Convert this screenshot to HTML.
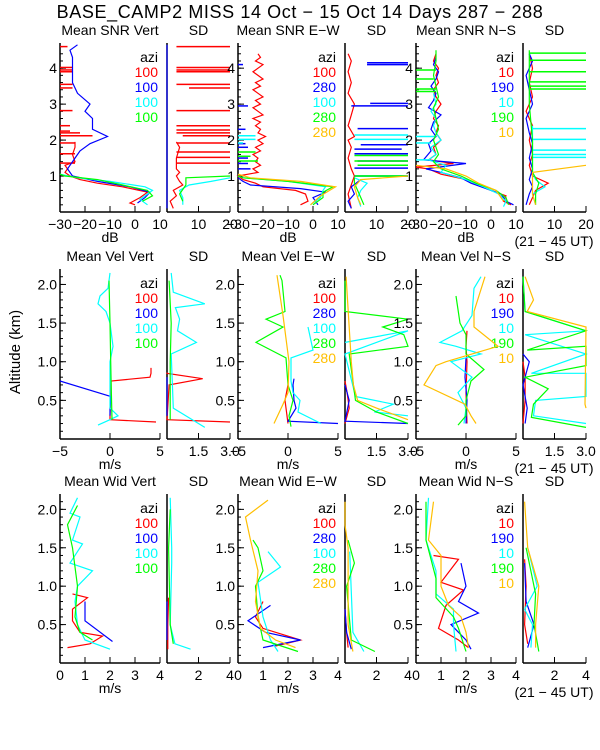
<!DOCTYPE html>
<html><head><meta charset="utf-8">
<style>
html,body{margin:0;padding:0;background:#fff;}
svg{display:block;font-family:"Liberation Sans",sans-serif;}
text{font-size:14px;fill:#000;}
</style></head>
<body>
<svg id="chart" width="600" height="750" viewBox="0 0 600 750" xmlns="http://www.w3.org/2000/svg">
<text x="300" y="18" text-anchor="middle" style="font-size:18px;letter-spacing:0.6px">BASE_CAMP2 MISS  14 Oct − 15 Oct 14 Days 287 − 288</text>
<text x="0" y="0" transform="translate(20,352) rotate(-90)" text-anchor="middle" style="font-size:15px">Altitude (km)</text>
</svg>
<script>
// ---- data arrays: [altitude km, value]; spikes: [altitude km, from value, to value] ----
const snrVertRed=[[0.2,0],[0.25,-2],[0.4,2],[0.55,5],[0.7,-5],[0.8,-15],[0.9,-22],[1.0,-26],[1.1,-28],[1.2,-27],[1.3,-28],[1.4,-24],[1.6,-25],[1.8,-24],[1.95,-24]];
const snrVertRedSpikes=[[1.36,-30,-24],[1.62,-30,-24],[1.92,-30,-24],[2.12,-30,-17],[2.2,-30,-22],[2.25,-30,-26],[2.4,-30,-26],[2.82,-30,-25],[3.45,-30,-25],[3.55,-30,-25],[3.9,-30,-25],[3.95,-30,-25],[4.02,-30,-25],[4.6,-30,-27]];
const snrVertBlue=[[0.25,1],[0.4,4],[0.55,6],[0.7,-2],[0.85,-15],[1.0,-25],[1.2,-27],[1.3,-26],[1.5,-24],[1.7,-22],[1.9,-18],[2.1,-11],[2.3,-17],[2.6,-17],[2.8,-20],[3.0,-18],[3.3,-23],[3.6,-25],[4.0,-25],[4.3,-25],[4.5,-26],[4.65,-23]];
const snrVertCyan=[[0.2,5],[0.35,2],[0.5,5],[0.6,7],[0.7,4],[0.85,-10],[0.95,-23],[1.05,-30]];
const snrVertGreen=[[0.3,3],[0.45,7],[0.6,5],[0.75,-5],[0.9,-15],[1.0,-28],[1.05,-30]];
const sdVertRed=[[0.1,2],[0.3,1],[0.45,3],[0.6,2],[0.75,5],[0.85,4],[1.0,3],[1.1,4],[1.2,3],[1.5,3],[1.8,4],[1.95,3]];
const sdVertRedSpikes=[[1.36,3,20],[1.52,3,20],[1.67,3,20],[1.92,3,20],[2.12,5,20],[2.2,3,20],[2.28,3,20],[2.4,3,20],[2.82,3,20],[3.45,7,20],[3.55,3,20],[3.9,3,20],[3.95,3,20],[4.02,3,20],[4.6,3,20]];
const sdVertBlue=[[0.1,0],[4.65,0]];
const sdVertCyan=[[0.2,5],[0.4,5],[0.6,4],[0.75,7],[0.85,14],[0.95,20]];
const sdVertGreen=[[0.3,5],[0.5,4],[0.75,6],[0.95,6],[1.0,20]];
const snrEWRed=[[0.2,-5],[0.3,-2],[0.5,-3],[0.6,-7],[0.7,-20],[0.8,-23],[0.9,-28],[1.0,-30],[1.1,-22],[1.2,-24],[1.3,-21],[1.4,-23],[1.5,-22],[1.6,-24],[1.7,-21],[1.8,-23],[1.9,-20],[2.0,-22],[2.1,-19],[2.2,-22],[2.3,-21],[2.4,-23],[2.5,-21],[2.6,-24],[2.7,-20],[2.8,-22],[2.9,-24],[3.0,-21],[3.1,-23],[3.2,-20],[3.3,-22],[3.4,-24],[3.5,-21],[3.6,-23],[3.7,-20],[3.8,-22],[3.9,-24],[4.0,-22],[4.1,-20],[4.2,-23],[4.3,-21],[4.4,-22]];
const snrEWBlue=[[0.2,2],[0.4,0],[0.55,5],[0.65,-5],[0.75,-25],[0.85,-28],[0.95,-30]];
const snrEWBlueSpikes=[[1.2,-30,-25],[1.35,-30,-26],[1.5,-30,-26],[1.8,-30,-26],[1.9,-30,-27],[2.3,-30,-27],[2.95,-30,-26],[4.1,-30,-28]];
const snrEWCyan=[[0.2,-1],[0.4,3],[0.6,4],[0.7,5],[0.85,-10],[0.95,-28],[1.0,-30]];
const snrEWCyanSpikes=[[1.92,-30,-28],[2.02,-30,-23],[2.12,-30,-23]];
const snrEWGreen=[[0.2,0],[0.4,4],[0.55,4],[0.7,8],[0.85,-10],[0.95,-28],[1.0,-30]];
const snrEWGreenSpikes=[[1.42,-30,-22],[1.55,-30,-25],[1.67,-30,-23]];
const snrEWOrange=[[0.2,-1],[0.45,3],[0.7,9],[0.85,-5],[0.95,-25],[1.05,-30]];
const sdEWRed=[[0.1,2],[0.5,1],[1.0,3],[1.2,2],[1.5,1],[1.8,2],[2.0,1],[2.1,3],[2.4,1],[2.7,2],[3.0,3],[3.3,1],[3.6,2],[3.9,1],[4.2,2],[4.4,1]];
const sdEWBlue=[[0.1,2],[0.3,1],[0.5,3],[0.7,2],[0.9,5]];
const sdEWBlueSpikes=[[1.0,3,20],[1.22,3,20],[1.42,4,20],[1.62,3,20],[1.75,3,18],[1.87,5,20],[2.32,4,20],[2.95,2,20],[3.02,8,20],[4.1,7,20],[4.15,7,20]];
const sdEWCyan=[[0.15,5],[0.4,4],[0.6,5],[0.8,7],[0.95,3]];
const sdEWCyanSpikes=[[1.0,3,20],[2.02,3,20],[2.14,3,20]];
const sdEWGreen=[[0.2,6],[0.4,5],[0.6,4],[0.8,3],[0.95,3]];
const sdEWGreenSpikes=[[1.0,3,20],[1.3,4,20],[1.42,3,20],[1.57,3,20]];
const sdEWOrange=[[0.2,5],[0.4,4],[0.7,3],[0.9,5],[1.0,20]];
const snrNSRed=[[0.2,8],[0.3,5],[0.45,6],[0.6,0],[0.75,-5],[0.9,-10],[1.05,-20],[1.2,-25],[1.25,-30],[1.35,-15],[1.45,-25],[1.6,-22],[1.8,-23],[2.0,-20],[2.2,-22],[2.4,-21],[2.6,-23],[2.8,-22],[3.0,-20],[3.2,-22],[3.4,-23],[3.6,-21],[3.8,-22],[4.0,-21],[4.2,-23],[4.4,-22]];
const snrNSBlue=[[0.2,9],[0.3,6],[0.5,4],[0.65,-2],[0.8,-8],[0.95,-12],[1.1,-20],[1.2,-26],[1.35,-10],[1.45,-27],[1.7,-24],[1.9,-25],[2.1,-22],[2.3,-24],[2.5,-23],[2.7,-20],[2.9,-25],[3.1,-23],[3.3,-22],[3.5,-24],[3.7,-22],[3.9,-21],[4.1,-23],[4.3,-22]];
const snrNSCyan=[[0.15,5],[0.3,6],[0.5,3],[0.7,-3],[0.9,-10],[1.1,-20],[1.3,-18],[1.45,-25],[1.6,-22],[1.8,-24],[2.0,-20],[2.2,-22],[2.4,-23],[2.6,-22],[2.8,-24],[3.0,-22],[3.3,-23]];
const snrNSCyanSpikes=[[1.45,-30,-25],[1.92,-30,-24],[2.1,-30,-22]];
const snrNSGreen=[[0.2,7],[0.4,6],[0.6,2],[0.8,-6],[1.0,-12],[1.2,-20],[1.4,-23],[1.6,-21],[1.8,-22],[2.0,-23],[2.3,-21],[2.6,-22],[2.9,-23],[3.2,-21],[3.5,-22],[3.8,-23],[4.2,-22],[4.5,-22]];
const snrNSGreenSpikes=[[3.35,-30,-22],[3.42,-30,-22],[3.7,-30,-23],[3.95,-30,-22]];
const snrNSOrange=[[0.3,5],[0.6,2],[0.8,-5],[1.0,-10],[1.2,-18],[1.3,-30]];
const sdNSRed=[[0.2,2],[0.4,3],[0.6,4],[0.8,8],[1.0,3],[1.3,2],[1.6,3],[2.0,2],[2.4,3],[2.8,1],[3.2,3],[3.6,2],[4.0,3],[4.4,2]];
const sdNSBlue=[[0.2,1],[0.5,2],[0.7,3],[0.9,2],[1.2,3],[1.5,2],[1.9,3],[2.2,2],[2.6,1],[3.0,3],[3.4,2],[3.8,1],[4.2,3],[4.4,2]];
const sdNSCyan=[[0.2,4],[0.5,3],[0.7,7],[0.9,4],[1.1,3],[1.5,3],[2.0,3],[2.4,3]];
const sdNSCyanSpikes=[[1.52,3,20],[1.6,3,20],[1.72,3,20],[2.02,3,20],[2.32,3,20]];
const sdNSGreen=[[0.2,4],[0.5,4],[0.8,5],[1.1,3],[2.0,3],[3.0,2],[4.0,2],[4.5,2]];
const sdNSGreenSpikes=[[3.42,2,20],[3.5,2,20],[3.62,2,20],[3.9,2,20],[4.22,2,20],[4.42,2,20]];
const sdNSOrange=[[0.2,4],[0.5,3],[0.9,3],[1.1,3],[1.3,20]];

const velVertRed=[[0.22,4.6],[0.25,0],[0.3,0],[0.6,0.1],[0.75,0.1],[0.8,4],[0.85,4.1],[0.92,4.1]];
const velVertBlue=[[0.3,0],[0.4,0],[0.55,0.1],[0.75,-5]];
const velVertCyan=[[0.18,-1.2],[0.25,0],[0.3,0.8],[0.4,0],[1.0,0],[1.2,0.3],[1.3,0.2],[1.5,0],[1.65,-0.4],[1.75,-1.2],[1.85,-1.0],[1.95,-0.2],[2.15,0]];
const velVertGreen=[[0.25,0.2],[0.8,0.1],[1.5,0],[2.05,-0.1]];
const velSdVertRed=[[0.22,3.0],[0.25,0],[0.7,0.1],[0.78,1.7],[0.85,0],[0.86,0]];
const velSdVertBlue=[[0.3,0],[0.8,0]];
const velSdVertCyan=[[0.15,1.8],[0.4,0.3],[1.1,0.2],[1.25,1.4],[1.4,0.5],[1.55,0.6],[1.7,0.4],[1.75,1.8],[1.9,0.3],[2.15,0.2]];
const velSdVertGreen=[[0.25,0.15],[1.0,0.15],[1.5,0.2],[2.05,0.1]];
const velEWRed=[[0.2,0],[0.4,-0.2],[0.5,-0.3],[0.7,0]];
const velEWBlue=[[0.2,5],[0.23,0],[0.4,0.8],[0.5,0.6],[0.7,0.5],[0.78,0.6]];
const velEWCyan=[[0.2,3.3],[0.35,1],[0.5,1.2],[0.6,0.5],[0.75,0.3],[1.05,0.3],[1.15,2.5],[1.45,2.0]];
const velEWGreen=[[0.16,0.3],[0.3,0.1],[0.5,0.5],[0.7,0],[1.05,-0.2],[1.25,-3.2],[1.45,-0.5],[1.55,-2.2],[1.65,-0.3],[2.05,-0.6],[2.12,-0.8]];
const velEWOrange=[[0.2,-1.4],[0.45,-0.5],[0.6,0],[1.0,0.1],[1.6,-0.5],[2.12,-1.1]];
const velSdEWRed=[[0.2,0],[0.4,0.2],[0.6,0.1],[0.75,0]];
const velSdEWBlue=[[0.2,3],[0.23,0],[0.5,0.2],[0.7,0]];
const velSdEWCyan=[[0.3,3],[0.35,1.4],[0.45,2.3],[0.55,0.5],[1.1,0],[1.4,3],[1.25,0]];
const velSdEWGreen=[[0.2,3],[0.35,1.5],[0.5,0.5],[1.1,0.2],[1.2,3],[1.35,2.8],[1.45,1.8],[1.55,3],[1.65,0],[2.05,0]];
const velSdEWOrange=[[0.25,3],[0.4,1.5],[0.5,0.6],[0.7,0.4],[1.0,0.3],[2.1,0.05]];
const velNSRed=[[0.2,0.1],[0.6,0],[1.0,0.1],[1.2,0],[1.4,0.1]];
const velNSBlue=[[0.2,0],[0.5,0.1],[0.8,-0.1],[1.05,0]];
const velNSCyan=[[0.2,-0.2],[0.4,0],[0.6,-0.8],[0.8,0.6],[1.0,-1.5],[1.1,1.5],[1.2,-1.0],[1.25,-2.6],[1.4,-0.4],[1.6,0.6],[1.95,0.8],[2.1,1.5]];
const velNSGreen=[[0.18,-0.8],[0.3,0],[0.5,0],[0.75,0.5],[0.9,1.8],[1.1,0],[1.35,0],[1.5,-0.6],[1.85,-1.0]];
const velNSOrange=[[0.2,1],[0.3,0.5],[0.45,-0.1],[0.7,-4.2],[0.95,-3.0],[1.0,-2.0],[1.2,3.2],[1.45,0.8],[1.65,0.8],[2.1,1.9]];
const velSdNSRed=[[0.2,0],[0.5,0.1],[0.8,0.1],[1.0,0]];
const velSdNSBlue=[[0.2,0.1],[0.4,0.2],[0.7,0],[1.0,0.3],[1.1,0]];
const velSdNSCyan=[[0.2,3],[0.3,0.5],[0.5,0.6],[0.55,3],[0.85,3],[0.85,0.4],[1.1,3],[1.35,0.1],[1.4,3],[1.65,0.1],[2.1,0]];
const velSdNSGreen=[[0.15,3],[0.28,0.4],[0.45,0.5],[0.65,1.2],[0.8,0.1],[0.95,3],[1.2,3],[1.15,0.2],[1.4,3],[1.65,0.1],[2.1,0]];
const velSdNSOrange=[[0.4,3],[0.45,2.95],[1.45,3],[1.65,0.2],[1.8,0.5],[2.1,0.1]];

const widVertRed=[[0.2,0.3],[0.25,1.2],[0.35,1.7],[0.4,0.8],[0.55,0.5],[0.7,0.5],[0.85,1.1],[0.9,0.5]];
const widVertBlue=[[0.28,2.1],[0.55,1.0],[0.8,1.0]];
const widVertCyan=[[0.18,2.0],[0.3,1.0],[0.5,0.7],[0.8,0.6],[1.0,0.7],[1.2,1.3],[1.3,0.4],[1.55,0.9],[1.6,0.5],[1.9,0.8],[1.95,0.4],[2.15,0.7]];
const widVertGreen=[[0.3,1.3],[0.4,0.8],[0.6,0.6],[1.0,0.7],[1.5,0.5],[1.8,0.3],[2.05,0.7]];
const widSdVertRed=[[0.18,0.05],[0.5,0.05],[0.85,0.1]];
const widSdVertBlue=[[0.3,0],[0.8,0]];
const widSdVertCyan=[[0.18,1.5],[0.25,0.5],[0.5,0.2],[1.3,0.3],[1.5,0.3],[2.15,0.2]];
const widSdVertGreen=[[0.25,0.4],[0.5,0.2],[1.5,0.1],[2.0,0.2]];
const widEWRed=[[0.22,1.5],[0.3,2.5],[0.45,1.0],[0.6,0.7],[0.8,1.0]];
const widEWBlue=[[0.2,1.0],[0.3,2.5],[0.4,1.1],[0.55,0.4],[0.75,1.3]];
const widEWCyan=[[0.15,1.6],[0.3,1.3],[0.6,1.0],[1.05,0.8],[1.25,1.7],[1.45,1.2]];
const widEWGreen=[[0.15,2.4],[0.3,1.0],[0.6,0.8],[1.0,0.7],[1.2,1.0],[1.5,0.8],[1.6,0.6]];
const widEWOrange=[[0.2,2.3],[0.3,1.5],[0.45,0.9],[0.8,0.7],[1.2,0.8],[1.6,0.5],[1.9,0.3],[2.12,1.2]];
const widSdEWRed=[[0.2,0.2],[0.4,0.1],[0.7,0]];
const widSdEWBlue=[[0.18,0.4],[0.4,0.1],[0.7,0]];
const widSdEWCyan=[[0.15,1.2],[0.4,0.5],[1.45,0.3]];
const widSdEWGreen=[[0.15,1.9],[0.3,0.4],[1.0,0.1],[1.3,0.6],[1.6,0.2]];
const widSdEWOrange=[[0.15,0.5],[0.5,0.2],[1.5,0.2],[1.8,0],[2.1,0]];
const widNSRed=[[0.2,2.1],[0.3,1.7],[0.45,0.9],[0.75,1.2],[0.95,1.9],[1.05,1.0],[1.35,1.7],[1.4,0.7]];
const widNSBlue=[[0.18,2.2],[0.3,2.0],[0.5,1.4],[0.65,2.5],[0.8,1.7],[1.0,2.0],[1.3,1.8]];
const widNSCyan=[[0.15,1.6],[0.5,1.5],[0.7,1.5],[0.9,0.8],[1.2,0.8],[1.6,0.4],[2.15,0.5]];
const widNSGreen=[[0.15,2.0],[0.45,1.7],[0.6,1.5],[0.85,0.8],[1.1,0.8],[1.6,0.4],[2.1,0.4]];
const widNSOrange=[[0.2,2.1],[0.4,2.0],[0.6,1.8],[0.75,1.3],[1.0,1.0],[1.4,1.0],[1.6,0.5],[2.1,0.7]];
const widSdNSRed=[[0.25,0.3],[0.5,0.1],[1.0,0.2],[1.35,0.1]];
const widSdNSBlue=[[0.2,0.3],[0.5,0.7],[0.8,0.2],[1.3,0.1]];
const widSdNSCyan=[[0.2,0.5],[0.5,0.6],[0.7,0.1],[1.0,0.9],[1.5,0.3]];
const widSdNSGreen=[[0.15,1.0],[0.5,0.7],[0.9,0.8],[1.5,0.2]];
const widSdNSOrange=[[0.2,0.8],[0.5,0.8],[1.0,1.0],[1.5,0.3],[2.1,0.1]];

const snrMeanTicks=[-30,-20,-10,0,10];
const snrSdTicks=[10,20];
const velMeanTicks=[-5,0,5];
const velSdTicks=[1.5,3.0];
const widMeanTicks=[0,1,2,3,4];
const widSdTicks=[2,4];
const snrAltTicks=[1,2,3,4];
const kinAltTicks=[0.5,1.0,1.5,2.0];
const aziVert=["100","100","100","100"];
const aziEW=["100","280","100","280","280"];
const aziNS=["10","190","10","190","10"];

const C={r:"#ff0000",b:"#0000ff",c:"#00ffff",g:"#00ff00",o:"#ffbf00"};
const svg=document.getElementById("chart");
const NS="http://www.w3.org/2000/svg";
function mk(tag,attrs,parent){const e=document.createElementNS(NS,tag);for(const k in attrs)e.setAttribute(k,attrs[k]);(parent||svg).appendChild(e);return e;}

const colsX=[[60,160],[167,230],[238,338],[345,408],[416,516],[523,586]];
const rowsY=[[43,212,4.7],[269,439,2.2],[494,663,2.2]];

function panel(ci,ri,name,title,xmin,xmax,ticks,tickFmt,unit,series,isMean,altTicks,minorStep,azi){
  const [x0,x1]=colsX[ci],[yt,yb,ymax]=rowsY[ri];
  const g=mk("g",{});
  
  
  const cl=v=>Math.max(xmin,Math.min(xmax,v));
  const sx=v=>x0+(cl(v)-xmin)/(xmax-xmin)*(x1-x0);
  const sy=a=>yb-a/ymax*(yb-yt);
  const t=mk("text",{x:(x0+x1)/2,y:yt-8,"text-anchor":"middle"},g);t.textContent=title;
  
  
  mk("line",{x1:x0,y1:yt,x2:x0,y2:yb,stroke:"#000","stroke-width":1.5},g);
  mk("line",{x1:x0,y1:yb,x2:x1,y2:yb,stroke:"#000","stroke-width":1.5},g);
  ticks.forEach(v=>{
    mk("line",{x1:sx(v),y1:yb,x2:sx(v),y2:yb-6,stroke:"#000"},g);
    const tl=mk("text",{x:sx(v),y:yb+17,"text-anchor":"middle"},g);tl.textContent=tickFmt(v).replace("-","−");
    
    
  });
  if(isMean){
    for(let a=minorStep;a<ymax;a+=minorStep){mk("line",{x1:x0,y1:sy(a),x2:x0+3,y2:sy(a),stroke:"#000"},g);}
    altTicks.forEach(a=>{
      mk("line",{x1:x0,y1:sy(a),x2:x0+6,y2:sy(a),stroke:"#000"},g);
      const tl=mk("text",{x:x0-3,y:sy(a)+5,"text-anchor":"end"},g);tl.textContent=ri==0?String(a):a.toFixed(1);
      
      
    });
    const u=mk("text",{x:(x0+x1)/2,y:yb+30,"text-anchor":"middle"},g);u.textContent=unit;
    
    
    const lg=[["azi","#000"]].concat(azi.map((a,i)=>[a,[C.r,C.b,C.c,C.g,C.o][i]]));
    lg.forEach((e,i)=>{const l=mk("text",{x:x1-2,y:yt+19+i*15,"text-anchor":"end",style:"fill:"+e[1]+";font-size:14px"},g);l.textContent=e[0];
      
      });
  } else if(ci==5){
    const u=mk("text",{x:554,y:yb+34,"text-anchor":"middle"},g);u.textContent="(21 − 45 UT)";
    
    
  }
  series.forEach(([data,col,spikes])=>{
    const p=mk("polyline",{points:data.map(d=>sx(d[1]).toFixed(1)+","+sy(d[0]).toFixed(1)).join(" "),fill:"none",stroke:col,"stroke-width":1.2},g);
    
    
    (spikes||[]).forEach(s=>{
      const l=mk("line",{x1:sx(s[1]),y1:sy(s[0]),x2:sx(s[2]),y2:sy(s[0]),stroke:col,"stroke-width":1.5},g);
      
      
    });
  });
}
const f0=v=>String(v), f1=v=>v.toFixed(1);
panel(0,0,"snr-vert-panel","Mean SNR Vert",-30,10,snrMeanTicks,f0,"dB",[[snrVertRed,C.r,snrVertRedSpikes],[snrVertBlue,C.b],[snrVertCyan,C.c],[snrVertGreen,C.g]],true,snrAltTicks,0.2,aziVert);
panel(1,0,"snr-vert-sd-panel","SD",0,20,snrSdTicks,f0,"",[[sdVertRed,C.r,sdVertRedSpikes],[sdVertBlue,C.b],[sdVertCyan,C.c],[sdVertGreen,C.g]],false);
panel(2,0,"snr-ew-panel","Mean SNR E−W",-30,10,snrMeanTicks,f0,"dB",[[snrEWRed,C.r],[snrEWBlue,C.b,snrEWBlueSpikes],[snrEWCyan,C.c,snrEWCyanSpikes],[snrEWGreen,C.g,snrEWGreenSpikes],[snrEWOrange,C.o]],true,snrAltTicks,0.2,aziEW);
panel(3,0,"snr-ew-sd-panel","SD",0,20,snrSdTicks,f0,"",[[sdEWRed,C.r],[sdEWBlue,C.b,sdEWBlueSpikes],[sdEWCyan,C.c,sdEWCyanSpikes],[sdEWGreen,C.g,sdEWGreenSpikes],[sdEWOrange,C.o]],false);
panel(4,0,"snr-ns-panel","Mean SNR N−S",-30,10,snrMeanTicks,f0,"dB",[[snrNSRed,C.r],[snrNSBlue,C.b],[snrNSCyan,C.c,snrNSCyanSpikes],[snrNSGreen,C.g,snrNSGreenSpikes],[snrNSOrange,C.o]],true,snrAltTicks,0.2,aziNS);
panel(5,0,"snr-ns-sd-panel","SD",0,20,snrSdTicks,f0,"",[[sdNSRed,C.r],[sdNSBlue,C.b],[sdNSCyan,C.c,sdNSCyanSpikes],[sdNSGreen,C.g,sdNSGreenSpikes],[sdNSOrange,C.o]],false);

panel(0,1,"vel-vert-panel","Mean Vel Vert",-5,5,velMeanTicks,f0,"m/s",[[velVertRed,C.r],[velVertBlue,C.b],[velVertCyan,C.c],[velVertGreen,C.g]],true,kinAltTicks,0.1,aziVert);
panel(1,1,"vel-vert-sd-panel","SD",0,3,velSdTicks,f1,"",[[velSdVertRed,C.r],[velSdVertBlue,C.b],[velSdVertCyan,C.c],[velSdVertGreen,C.g]],false);
panel(2,1,"vel-ew-panel","Mean Vel E−W",-5,5,velMeanTicks,f0,"m/s",[[velEWRed,C.r],[velEWBlue,C.b],[velEWCyan,C.c],[velEWGreen,C.g],[velEWOrange,C.o]],true,kinAltTicks,0.1,aziEW);
panel(3,1,"vel-ew-sd-panel","SD",0,3,velSdTicks,f1,"",[[velSdEWRed,C.r],[velSdEWBlue,C.b],[velSdEWCyan,C.c],[velSdEWGreen,C.g],[velSdEWOrange,C.o]],false);
panel(4,1,"vel-ns-panel","Mean Vel N−S",-5,5,velMeanTicks,f0,"m/s",[[velNSRed,C.r],[velNSBlue,C.b],[velNSCyan,C.c],[velNSGreen,C.g],[velNSOrange,C.o]],true,kinAltTicks,0.1,aziNS);
panel(5,1,"vel-ns-sd-panel","SD",0,3,velSdTicks,f1,"",[[velSdNSRed,C.r],[velSdNSBlue,C.b],[velSdNSCyan,C.c],[velSdNSGreen,C.g],[velSdNSOrange,C.o]],false);

panel(0,2,"wid-vert-panel","Mean Wid Vert",0,4,widMeanTicks,f0,"m/s",[[widVertRed,C.r],[widVertBlue,C.b],[widVertCyan,C.c],[widVertGreen,C.g]],true,kinAltTicks,0.1,aziVert);
panel(1,2,"wid-vert-sd-panel","SD",0,4,widSdTicks,f0,"",[[widSdVertRed,C.r],[widSdVertBlue,C.b],[widSdVertCyan,C.c],[widSdVertGreen,C.g]],false);
panel(2,2,"wid-ew-panel","Mean Wid E−W",0,4,widMeanTicks,f0,"m/s",[[widEWRed,C.r],[widEWBlue,C.b],[widEWCyan,C.c],[widEWGreen,C.g],[widEWOrange,C.o]],true,kinAltTicks,0.1,aziEW);
panel(3,2,"wid-ew-sd-panel","SD",0,4,widSdTicks,f0,"",[[widSdEWRed,C.r],[widSdEWBlue,C.b],[widSdEWCyan,C.c],[widSdEWGreen,C.g],[widSdEWOrange,C.o]],false);
panel(4,2,"wid-ns-panel","Mean Wid N−S",0,4,widMeanTicks,f0,"m/s",[[widNSRed,C.r],[widNSBlue,C.b],[widNSCyan,C.c],[widNSGreen,C.g],[widNSOrange,C.o]],true,kinAltTicks,0.1,aziNS);
panel(5,2,"wid-ns-sd-panel","SD",0,4,widSdTicks,f0,"",[[widSdNSRed,C.r],[widSdNSBlue,C.b],[widSdNSCyan,C.c],[widSdNSGreen,C.g],[widSdNSOrange,C.o]],false);
</script>
</body></html>
